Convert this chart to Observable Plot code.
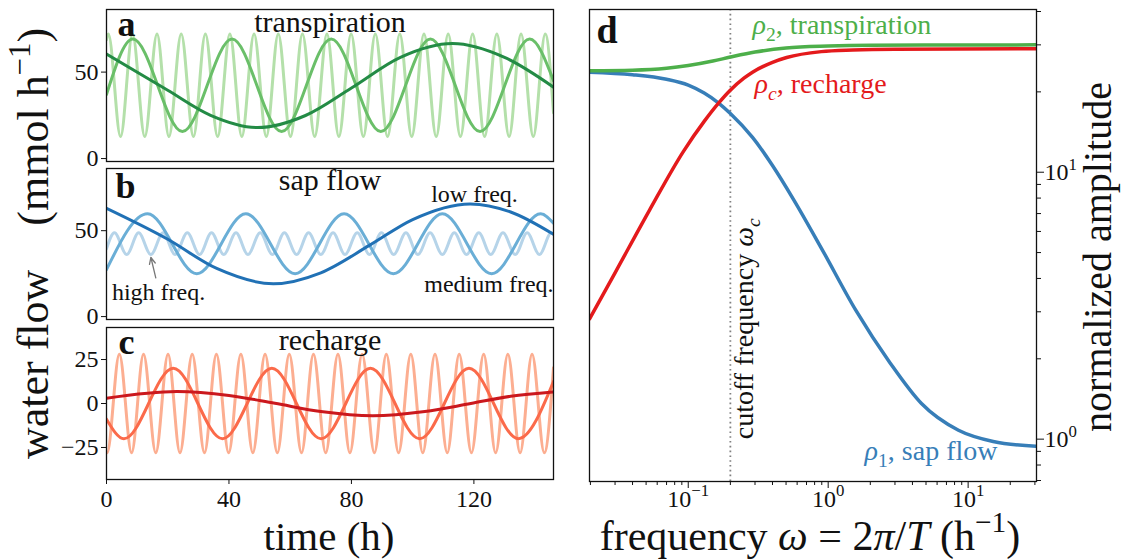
<!DOCTYPE html>
<html>
<head>
<meta charset="utf-8">
<script src="https://cdn.jsdelivr.net/npm/d3@7"></script>
<script src="https://cdn.jsdelivr.net/npm/@observablehq/plot@0.6"></script>
<style>
html,body{margin:0;padding:0;background:#fff;overflow:hidden;}
#fig{position:relative;width:1121px;height:560px;}
#fig svg{position:absolute;left:0;top:0;}
text{white-space:pre;}
</style>
</head>
<body>
<div id="fig"></div>
<script>
// ---------------- data ----------------
const timeDomain = [0, 146];
const timeTicks = [0, 40, 80, 120];
const flowTicksAB = [0, 50];
const flowTicksC = [-25, 0, 25];
const flowDomainAB = [-1.7, 86.2];
const flowDomainC = [-43.2, 43.2];

// panel a: transpiration [time h, flow]
const transLow = [[0,60.4],[20,39.5],[34,25.0],[49.3,17.9],[65,24.9],[80,40.8],[96,58.5],[113,66.5],[130,58.5],[146,41.3]];
const transMed = [[0,37.0],[8.6,69.1],[24.8,15.6],[41.0,69.1],[57.2,15.6],[73.4,69.1],[89.6,15.6],[105.8,69.1],[122.0,15.6],[138.2,69.1],[146,45.0]];
const transHigh = [[0,68.8],[0.6,72.1],[4.6,12.7],[8.5,72.1],[12.5,12.7],[16.5,72.1],[20.4,12.7],[24.4,72.1],[28.4,12.7],[32.3,72.1],[36.3,12.7],[40.3,72.1],[44.2,12.7],[48.2,72.1],[52.2,12.7],[56.1,72.1],[60.1,12.7],[64.0,72.1],[68.0,12.7],[72.0,72.1],[75.9,12.7],[79.9,72.1],[83.9,12.7],[87.8,72.1],[91.8,12.7],[95.8,72.1],[99.7,12.7],[103.7,72.1],[107.7,12.7],[111.6,72.1],[115.6,12.7],[119.6,72.1],[123.5,12.7],[127.5,72.1],[131.5,12.7],[135.4,72.1],[139.4,12.7],[143.3,72.1],[146,26.5]];

// panel b: sap flow
const sapLow = [[0,63.0],[20,45.0],[36,28.0],[54.5,19.1],[70,25.5],[86,41.6],[100,56.5],[118.8,65.6],[132,60.9],[146,47.9]];
const sapMed = [[0,27.3],[13.4,59.8],[29.5,25.0],[45.5,59.8],[61.6,25.0],[77.6,59.8],[93.7,25.0],[109.7,59.8],[125.8,25.0],[141.8,59.8],[146,54.3]];
const sapHigh = [[0,39.4],[2.6,48.8],[6.6,36.1],[10.5,48.8],[14.5,36.1],[18.5,48.8],[22.4,36.1],[26.4,48.8],[30.4,36.1],[34.3,48.8],[38.3,36.1],[42.3,48.8],[46.2,36.1],[50.2,48.8],[54.2,36.1],[58.1,48.8],[62.1,36.1],[66.0,48.8],[70.0,36.1],[74.0,48.8],[77.9,36.1],[81.9,48.8],[85.9,36.1],[89.8,48.8],[93.8,36.1],[97.8,48.8],[101.7,36.1],[105.7,48.8],[109.7,36.1],[113.6,48.8],[117.6,36.1],[121.6,48.8],[125.5,36.1],[129.5,48.8],[133.5,36.1],[137.4,48.8],[141.4,36.1],[145.3,48.8],[146,47.9]];

// panel c: recharge
const rechLow = [[0,3.0],[23,6.8],[40,4.6],[55,0.1],[70,-4.6],[87,-7.0],[104,-4.6],[119,0.0],[132,4.1],[146,6.6]];
const rechMed = [[0,-8.9],[5.7,-20],[21.8,20],[37.9,-20],[54.0,20],[70.1,-20],[86.2,20],[102.3,-20],[118.4,20],[134.5,-20],[146,12.5]];
const rechHigh = [[0,-27.8],[0.2,-28],[4.2,28],[8.2,-28],[12.1,28],[16.1,-28],[20.1,28],[24.0,-28],[28.0,28],[32.0,-28],[35.9,28],[39.9,-28],[43.9,28],[47.8,-28],[51.8,28],[55.8,-28],[59.7,28],[63.7,-28],[67.6,28],[71.6,-28],[75.6,28],[79.5,-28],[83.5,28],[87.5,-28],[91.4,28],[95.4,-28],[99.4,28],[103.3,-28],[107.3,28],[111.3,-28],[115.2,28],[119.2,-28],[123.2,28],[127.1,-28],[131.1,28],[135.1,-28],[139.0,28],[143.0,-28],[146,20.4]];

// panel b annotations (time h, flow)
const annTexts = ["low freq.", "medium freq.", "high freq."];
const annAnchors = [[120.2, 71.2], [124.9, 18.7], [17.0, 14.0]];
const annArrow = [{x1: 16.1, y1: 22.5, x2: 14.5, y2: 34.4}];

// panel d: normalized amplitude vs frequency
const freqDomain = [0.0197, 30.8];
const ampDomain = [0.694, 40.7];
const cutoff = 0.2;
const rho2 = [[0.0197,24.0],[0.04,24.1],[0.07,24.5],[0.1,25.1],[0.15,26.1],[0.2,27.0],[0.3,28.2],[0.5,29.2],[1,29.7],[2,29.9],[30.8,30.0]];
const rho1 = [[0.0197,23.7],[0.04,23.2],[0.07,22.3],[0.1,21.2],[0.13,19.8],[0.164,18.2],[0.2,16.6],[0.288,13.5],[0.4,10.6],[0.566,7.9],[0.893,5.2],[1.57,3.05],[2.77,1.93],[4.64,1.36],[8.53,1.08],[15.1,0.98],[30.8,0.94]];
const rhoC = [[0.0197,2.82],[0.03,4.2],[0.0528,7.2],[0.0927,12.0],[0.13,15.5],[0.164,18.1],[0.198,20.2],[0.25,22.5],[0.288,23.7],[0.4,25.8],[0.505,26.9],[0.893,28.3],[1.5,28.7],[3,28.9],[30.8,29.0]];
const xMajor = [0.1, 1, 10];
const xExp = ["−1", "0", "1"];
const xMinor = [0.02,0.03,0.04,0.05,0.06,0.07,0.08,0.09,0.2,0.3,0.4,0.5,0.6,0.7,0.8,0.9,2,3,4,5,6,7,8,9,20,30];
const yMajor = [1, 10];
const yExp = ["0", "1"];
const yMinor = [0.7,0.8,0.9,2,3,4,5,6,7,8,9,20,30,40];
const dLabels = ["$ρ$_{2}, transpiration", "$ρ_{c}$, recharge", "$ρ$_{1}, sap flow"];
const dLabelAnchors = [[0.288, 32.9], [0.298, 19.8], [1.82, 0.834]];
const cutoffLabel = "cutoff frequency $ω_{c}$";

// ---------------- rendering ----------------
const W = 1121, H = 560;
const FONT = "'Liberation Serif','Times New Roman',serif";
const fig = document.getElementById("fig");
const NS = "http://www.w3.org/2000/svg";

function parseRich(s) {
  const segs = []; let i = 0, it = false;
  while (i < s.length) {
    const c = s[i];
    if ((c === "^" || c === "_") && s[i + 1] === "{") {
      const j = s.indexOf("}", i);
      segs.push({t: s.slice(i + 2, j), mode: c === "^" ? "sup" : "sub", it});
      i = j + 1;
    } else if (c === "$") { it = !it; i++; }
    else {
      let j = i + 1;
      while (j < s.length && !((s[j] === "^" || s[j] === "_") && s[j + 1] === "{") && s[j] !== "$") j++;
      segs.push({t: s.slice(i, j), mode: "n", it}); i = j;
    }
  }
  return segs;
}
function richify(root) {
  root.querySelectorAll("text").forEach(el => {
    const s = el.textContent;
    if (!/\$|\^\{|_\{/.test(s)) return;
    const fs = parseFloat(getComputedStyle(el).fontSize) || 24;
    const segs = parseRich(s);
    el.textContent = "";
    let shift = 0;
    for (const sg of segs) {
      const ts = document.createElementNS(NS, "tspan");
      const target = sg.mode === "sup" ? -0.42 * fs : sg.mode === "sub" ? 0.24 * fs : 0;
      if (target !== shift) { ts.setAttribute("dy", target - shift); shift = target; }
      if (sg.mode !== "n") ts.setAttribute("font-size", (0.7 * fs).toFixed(1));
      if (sg.it) ts.setAttribute("font-style", "italic");
      ts.textContent = sg.t;
      el.appendChild(ts);
    }
  });
}
function add(svg) {
  svg.style.position = "absolute"; svg.style.left = "0px"; svg.style.top = "0px";
  fig.appendChild(svg); richify(svg);
}
const baseStyle = {background: "transparent", fontFamily: FONT, fontSize: "24px", color: "#111", overflow: "visible"};
const px = d => d[0], py = d => d[1];
const fmtNum = d => d < 0 ? "−" + (-d) : String(d);

function leftPanel(o) {
  const marks = [
    ...o.series.map(s => Plot.line(s.data, {x: px, y: py, stroke: s.color, strokeWidth: 3, curve: "monotone-x", clip: true})),
    Plot.frame({stroke: "#111", strokeWidth: 1.3}),
    Plot.axisY(o.yTicks, {anchor: "left", tickSize: 5, tickPadding: 3, fontSize: 24, tickFormat: fmtNum, label: null}),
    Plot.text([o.letter], {text: d => d, frameAnchor: "top-left", textAnchor: "start", lineAnchor: "top", dx: o.letterDx, dy: o.letterDy, fontSize: 36, fontWeight: "bold", fill: "#111"}),
    Plot.text([o.title], {text: d => d, frameAnchor: "top", textAnchor: "middle", lineAnchor: "top", dy: o.titleDy, fontSize: 30, fill: "#111"}),
    ...(o.extra || [])
  ];
  if (o.xTicks) marks.push(Plot.axisX(o.xTicks, {anchor: "bottom", tickSize: 5, tickPadding: 5, fontSize: 24, tickFormat: fmtNum, label: null}));
  return Plot.plot({
    width: W, height: H, marginLeft: 106, marginRight: W - 553, marginTop: o.top, marginBottom: H - o.bottom,
    style: baseStyle,
    x: o.xTicks ? {domain: timeDomain} : {domain: timeDomain, axis: null},
    y: {domain: o.yDomain},
    marks
  });
}

add(leftPanel({
  top: 9, bottom: 161, yDomain: flowDomainAB, yTicks: flowTicksAB, letter: "a", letterDx: 11, letterDy: 0.5,
  title: "transpiration", titleDy: 1.6,
  series: [{data: transHigh, color: "#b4e0aa"}, {data: transMed, color: "#6abf69"}, {data: transLow, color: "#238b45"}]
}));

add(leftPanel({
  top: 168, bottom: 319, yDomain: flowDomainAB, yTicks: flowTicksAB, letter: "b", letterDx: 9, letterDy: 3.5,
  title: "sap flow", titleDy: 0,
  series: [{data: sapHigh, color: "#b6d4e9"}, {data: sapMed, color: "#6aaed6"}, {data: sapLow, color: "#2171b5"}],
  extra: [
    ...annTexts.map((t, i) => Plot.text([t], {text: d => d, x: () => annAnchors[i][0], y: () => annAnchors[i][1], textAnchor: "middle", lineAnchor: "middle", fontSize: 24, fill: "#111"})),
    Plot.arrow(annArrow, {x1: "x1", y1: "y1", x2: "x2", y2: "y2", stroke: "#777", strokeWidth: 1.3, headLength: 9, headAngle: 50})
  ]
}));

add(leftPanel({
  top: 327, bottom: 479, yDomain: flowDomainC, yTicks: flowTicksC, letter: "c", letterDx: 12, letterDy: 0.6,
  title: "recharge", titleDy: 0.8, xTicks: timeTicks,
  series: [{data: rechHigh, color: "#fcae91"}, {data: rechMed, color: "#fb6a4a"}, {data: rechLow, color: "#cb181d"}]
}));

// panel d
const dColors = ["#4daf4a", "#e41a1c", "#377eb8"];
add(Plot.plot({
  width: W, height: H, marginLeft: 589, marginRight: W - 1036, marginTop: 9, marginBottom: H - 481,
  style: baseStyle,
  x: {type: "log", domain: freqDomain},
  y: {type: "log", domain: ampDomain},
  marks: [
    Plot.ruleX([cutoff], {stroke: "#808080", strokeWidth: 1.8, strokeDasharray: "1.6,3.2"}),
    Plot.line(rho1, {x: px, y: py, stroke: dColors[2], strokeWidth: 3.5, curve: "monotone-x", clip: true}),
    Plot.line(rhoC, {x: px, y: py, stroke: dColors[1], strokeWidth: 3.5, curve: "monotone-x", clip: true}),
    Plot.line(rho2, {x: px, y: py, stroke: dColors[0], strokeWidth: 3.5, curve: "monotone-x", clip: true}),
    Plot.frame({stroke: "#111", strokeWidth: 1.3}),
    Plot.axisX(xMinor, {anchor: "bottom", tickSize: 4, tickFormat: () => "", label: null}),
    Plot.axisX(xMajor, {anchor: "bottom", tickSize: 7, tickPadding: 1, fontSize: 24, tickFormat: d => "10^{" + xExp[xMajor.indexOf(d)] + "}", label: null}),
    Plot.axisY(yMinor, {anchor: "right", tickSize: 4, tickFormat: () => "", label: null}),
    Plot.axisY(yMajor, {anchor: "right", tickSize: 7, tickPadding: 1, fontSize: 24, tickFormat: d => "10^{" + yExp[yMajor.indexOf(d)] + "}", label: null}),
    ...dLabels.map((t, i) => Plot.text([t], {text: d => d, x: () => dLabelAnchors[i][0], y: () => dLabelAnchors[i][1], textAnchor: "start", lineAnchor: "bottom", fontSize: 28, fill: dColors[i]})),
    Plot.text([cutoffLabel], {text: d => d, x: () => cutoff, y: () => 1.0, rotate: -90, textAnchor: "start", lineAnchor: "bottom", dx: 23, fontSize: 28, fill: "#111"}),
    Plot.text(["d"], {text: d => d, frameAnchor: "top-left", textAnchor: "start", lineAnchor: "top", dx: 7, dy: 7, fontSize: 38, fontWeight: "bold", fill: "#111"})
  ]
}));

// axis titles
const ov = d3.create("svg").attr("width", W).attr("height", H).attr("font-family", FONT).attr("fill", "#111");
ov.append("text").attr("transform", "translate(48,243.5) rotate(-90)").attr("text-anchor", "middle").attr("font-size", 44).text("water flow    (mmol h^{−1})");
ov.append("text").attr("x", 329).attr("y", 550).attr("text-anchor", "middle").attr("font-size", 41).text("time (h)");
ov.append("text").attr("x", 810).attr("y", 550).attr("text-anchor", "middle").attr("font-size", 42).text("frequency $ω$ = 2$π$/$T$ (h^{−1})");
ov.append("text").attr("transform", "translate(1111,257) rotate(-90)").attr("text-anchor", "middle").attr("font-size", 40).text("normalized amplitude");
add(ov.node());
</script>
</body>
</html>
